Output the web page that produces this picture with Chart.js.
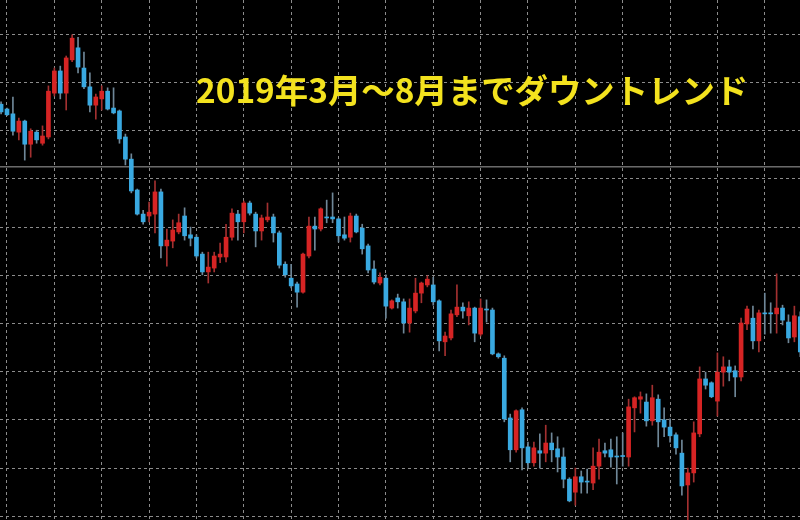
<!DOCTYPE html>
<html><head><meta charset="utf-8">
<script src="https://cdn.jsdelivr.net/npm/chart.js@4.4.1/dist/chart.umd.min.js"></script>
<style>html,body{margin:0;padding:0;background:#000;}#wrap{width:800px;height:520px;position:relative;}</style>
</head><body><div id="wrap"><canvas id="c"></canvas></div>
<script>
const titleText = '2019年3月～8月までダウントレンド';
const openV = [126.55,126.45,126.35,125.97,126.20,125.72,125.97,125.74,125.87,126.78,127.24,126.78,127.47,127.72,127.30,126.91,126.53,126.66,126.82,126.47,126.41,125.87,125.41,124.77,124.27,124.23,124.27,124.73,123.61,123.71,123.90,124.23,123.84,123.79,123.44,123.07,123.15,123.38,123.38,123.79,124.27,124.11,124.50,124.27,123.92,124.15,124.21,123.88,123.23,122.94,122.82,122.65,123.40,124.02,123.96,124.21,124.21,124.17,123.84,123.79,124.23,123.98,123.61,123.13,122.84,122.94,122.32,122.53,122.45,122.01,122.26,122.63,122.80,122.80,122.47,121.62,121.70,122.18,122.34,122.16,122.32,121.78,122.30,122.28,121.37,121.28,120.04,119.38,120.21,119.44,119.11,119.36,119.31,119.52,119.40,119.23,118.77,118.50,118.82,118.73,118.69,119.04,119.36,119.38,119.25,119.26,119.23,120.25,120.43,120.37,119.98,120.43,120.00,119.85,119.69,119.31,118.65,118.90,119.71,120.85,120.77,120.39,120.99,121.10,121.02,120.89,121.99,122.11,121.64,122.22,122.22,122.20,122.32,122.03,121.72,122.14];
const highV = [126.60,126.47,126.70,126.26,126.22,126.04,126.01,126.10,126.93,127.30,127.34,127.55,127.99,127.94,127.63,127.20,126.76,126.93,126.89,126.89,126.43,125.93,125.52,124.79,124.35,124.52,124.96,124.79,123.96,124.15,124.27,124.40,124.00,123.84,123.48,123.48,123.48,123.67,124.06,124.38,124.35,124.54,124.54,124.31,124.25,124.50,124.27,123.92,123.28,123.23,122.86,123.46,124.21,124.21,124.40,124.56,124.71,124.19,124.21,124.29,124.27,124.06,123.65,123.30,123.05,123.01,122.49,122.61,122.51,122.51,122.94,122.86,122.99,122.96,122.49,121.82,122.28,122.80,122.43,122.45,122.34,122.51,122.49,122.32,121.39,121.33,120.12,120.21,120.25,119.54,119.54,119.71,119.89,119.73,119.65,119.42,118.80,119.00,118.94,118.98,119.42,119.60,119.52,119.60,119.65,119.73,120.43,120.48,120.58,120.54,120.72,120.52,120.25,120.02,119.73,119.58,119.00,119.96,121.10,120.99,120.79,121.39,121.31,121.24,121.12,122.11,122.36,122.36,122.28,122.63,122.43,123.03,122.38,122.18,122.36,122.24];
const lowV = [126.35,126.31,125.91,125.81,125.39,125.45,125.74,125.70,125.83,126.72,126.66,126.43,127.43,127.20,126.87,126.39,126.24,126.43,126.43,126.35,125.74,125.29,124.71,124.25,124.06,124.11,123.88,123.36,123.19,123.57,123.86,123.73,123.61,123.36,123.01,122.84,123.07,123.26,123.28,123.73,123.73,123.88,124.25,123.59,123.73,124.11,123.69,123.15,122.96,122.74,122.34,122.63,123.36,123.52,123.92,124.09,124.09,123.69,123.73,123.69,123.88,123.44,123.05,122.82,122.80,122.11,122.30,122.32,121.80,121.82,122.22,122.43,122.76,122.38,121.43,121.33,121.66,122.14,122.11,121.97,121.62,121.74,122.03,121.35,121.28,119.96,119.13,119.33,118.96,119.00,119.04,119.00,119.13,119.13,118.92,118.59,118.30,118.23,118.48,118.48,118.55,118.77,119.23,119.02,118.67,119.04,119.04,119.75,120.14,119.87,119.89,119.44,119.65,119.54,119.29,118.44,117.85,118.71,119.65,120.64,120.46,120.08,120.70,120.81,120.48,120.81,121.87,121.47,121.41,121.78,121.80,121.80,121.97,121.60,121.62,121.31];
const closeV = [126.39,126.33,125.99,126.20,125.72,125.99,125.81,125.89,126.82,127.24,126.78,127.51,127.92,127.32,126.91,126.53,126.70,126.82,126.45,126.37,125.83,125.41,124.75,124.27,124.11,124.31,124.73,123.61,123.73,123.94,124.09,123.82,123.77,123.40,123.07,123.17,123.40,123.44,123.79,124.29,124.11,124.50,124.29,123.92,124.19,124.21,123.88,123.21,123.01,122.78,122.65,123.44,124.02,123.96,124.38,124.19,124.17,123.82,123.77,124.23,123.90,123.55,123.11,122.86,122.96,122.36,122.47,122.45,122.01,122.32,122.63,122.84,122.92,122.45,121.64,121.74,122.20,122.34,122.26,122.32,121.80,122.32,122.28,121.37,121.31,120.02,119.38,120.19,119.42,119.11,119.42,119.31,119.52,119.38,119.23,118.77,118.32,118.82,118.71,118.71,119.04,119.33,119.31,119.23,119.23,119.24,120.27,120.46,120.48,119.98,120.46,119.96,119.85,119.67,119.42,118.63,118.90,119.73,120.85,120.72,120.48,120.99,121.10,120.99,120.89,122.01,122.30,121.64,122.22,122.20,122.20,122.32,122.07,121.70,122.16,121.41];
const levelPrice = 125.25;
const gridPrices = [128,127,126,125,124,123,122,121,120,119,118];
const gridBars = [1,9,17,25,33,41,49,57,65,73,81,89,97,105,113,121,129];

const UP = '#d62424', DOWN = '#39a9e1', UPW = '#a33030', DOWNW = '#6f8798';
const idx = openV.map((_, i) => i);
const bodies = idx.map(i => ({x: i, y: [openV[i], closeV[i]]}));
const wicks = idx.map(i => ({x: i, y: [lowV[i], highV[i]]}));
const isUp = i => closeV[i] > openV[i];

const titlePlugin = {
  id: 'title',
  afterDraw(chart) {
    const ctx = chart.ctx;
    ctx.save();
    let size = 35;
    ctx.font = 'bold ' + size + 'px "Noto Sans CJK JP"';
    const w = ctx.measureText(titleText).width;
    size = size * 552 / w;
    ctx.font = 'bold ' + size.toFixed(1) + 'px "Noto Sans CJK JP"';
    ctx.fillStyle = '#f3e21e';
    ctx.textBaseline = 'alphabetic';
    ctx.fillText(titleText, 196, 103);
    ctx.restore();
  }
};

new Chart(document.getElementById('c'), {
  type: 'bar',
  data: {
    datasets: [
      {type: 'bar', data: bodies, grouped: false, barThickness: 4, minBarLength: 1, borderWidth: 0, borderSkipped: false,
       backgroundColor: c => isUp(c.dataIndex) ? UP : DOWN},
      {type: 'bar', data: wicks, grouped: false, barThickness: 1, borderWidth: 0, borderSkipped: false,
       backgroundColor: c => isUp(c.dataIndex) ? UPW : DOWNW},
      {type: 'line', data: [{x: -1, y: levelPrice}, {x: 140, y: levelPrice}], borderColor: '#a2a2a2', borderWidth: 1, pointRadius: 0, fill: false}
    ]
  },
  options: {
    responsive: true, maintainAspectRatio: false, animation: false,
    layout: {padding: 0},
    plugins: {legend: {display: false}, tooltip: {enabled: false}},
    scales: {
      x: {type: 'linear', min: -0.182, max: 134.95, offset: false,
          ticks: {display: false}, grid: {color: '#8c8c8c', lineWidth: 1, drawTicks: false, offset: false},
          border: {display: false, dash: [3, 3]},
          afterBuildTicks: s => { s.ticks = gridBars.map(v => ({value: v})); }},
      y: {type: 'linear', min: 117.923, max: 128.712,
          ticks: {display: false}, grid: {color: '#8c8c8c', lineWidth: 1, drawTicks: false},
          border: {display: false, dash: [3, 3]},
          afterBuildTicks: s => { s.ticks = gridPrices.map(v => ({value: v})); }}
    }
  },
  plugins: [titlePlugin]
});
</script></body></html>
